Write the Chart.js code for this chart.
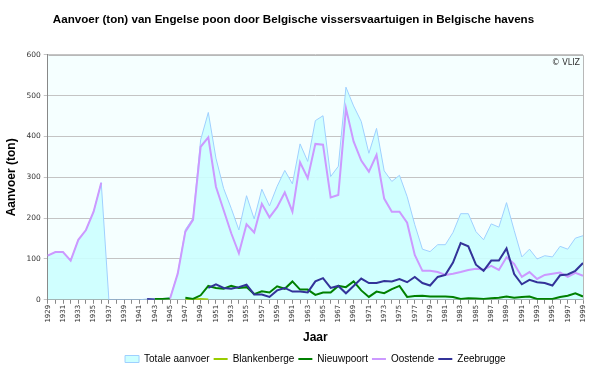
<!DOCTYPE html>
<html>
<head>
<meta charset="utf-8">
<script src="https://cdn.jsdelivr.net/npm/chart.js@4.4.0/dist/chart.umd.min.js"></script>
<style>
  body { margin: 0; background: #fff; }
  #wrap { width: 600px; height: 368px; }
</style>
</head>
<body>
<div id="wrap"><canvas id="chart" width="600" height="368"></canvas></div>
<script>
const years = ['1929','1930','1931','1932','1933','1934','1935','1936','1937','1938',
  '1939','1940','1941','1942','1943','1944','1945','1946','1947','1948',
  '1949','1950','1951','1952','1953','1954','1955','1956','1957','1958',
  '1959','1960','1961','1962','1963','1964','1965','1966','1967','1968',
  '1969','1970','1971','1972','1973','1974','1975','1976','1977','1978',
  '1979','1980','1981','1982','1983','1984','1985','1986','1987','1988',
  '1989','1990','1991','1992','1993','1994','1995','1996','1997','1998','1999'];

// totale aanvoer (ton)
const totaal = [108,117,117,96,147,171,216,287,0,0,
  0,0,0,2,3,3,5,64,172,200,
  392,459,347,273,224,171,255,198,271,230,
  278,317,284,382,339,439,451,302,327,521,
  475,437,359,420,316,290,305,253,184,124,
  118,135,135,165,211,211,167,147,186,178,
  238,170,105,124,100,108,105,131,124,151,157];

const blankenberge = [null,null,null,null,null,null,null,null,null,null,
  null,null,null,null,null,null,null,null,0,1,
  2,1,null,null,null,null,null,null,null,null,
  null,null,null,null,null,null,null,null,null,null,
  null,null,null,null,null,null,null,null,null,null,
  null,null,null,null,null,null,null,null,null,null,
  null,null,null,null,null,null,null,null,null,null,null];

const nieuwpoort = [null,null,null,null,null,null,null,null,null,null,
  null,null,null,null,2,2,3,null,5,2,
  11,34,29,27,34,29,31,14,21,18,
  33,27,45,25,25,12,18,18,34,31,
  45,23,7,20,16,26,34,7,9,10,
  8,8,8,7,2,4,3,2,4,5,
  8,5,7,8,2,2,2,7,10,16,8];

const oostende = [108,117,117,96,147,171,216,287,null,null,
  null,null,null,null,null,null,3,64,167,196,
  375,398,277,220,163,114,185,165,235,202,
  227,263,216,337,298,382,380,251,257,469,
  388,341,314,355,248,216,216,189,110,71,
  71,68,61,64,68,73,76,74,83,73,
  104,88,56,68,51,61,64,67,56,66,59];

const zeebrugge = [null,null,null,null,null,null,null,null,null,null,
  null,null,null,2,1,null,null,null,null,null,
  null,29,38,29,27,31,37,13,13,7,
  23,29,20,20,18,45,53,29,34,16,
  34,52,41,41,46,45,51,43,56,41,
  35,56,61,91,139,131,86,71,96,96,
  126,63,38,49,43,41,35,60,62,71,90];

const tickLabels = years;

const plotBg = {
  id: 'plotBg',
  beforeDraw(chart) {
    const { ctx, chartArea: a } = chart;
    ctx.save();
    ctx.fillStyle = '#f5ffff';
    ctx.fillRect(a.left, a.top, a.right - a.left, a.bottom - a.top);
    ctx.restore();
  },
  afterDraw(chart) {
    const { ctx, chartArea: a } = chart;
    ctx.save();
    ctx.strokeStyle = '#b8b8b8';
    ctx.lineWidth = 1;
    ctx.beginPath();
    ctx.moveTo(Math.round(a.left) + 0.5, Math.round(a.top) + 0.5);
    ctx.lineTo(Math.round(a.right) + 0.5, Math.round(a.top) + 0.5);
    ctx.lineTo(Math.round(a.right) + 0.5, Math.round(a.bottom) + 0.5);
    ctx.stroke();
    ctx.fillStyle = '#333';
    ctx.font = '8px "DejaVu Sans", sans-serif';
    ctx.textAlign = 'right';
    ctx.textBaseline = 'top';
    ctx.fillText('\u00a9 VLIZ', a.right - 3, a.top + 4);
    ctx.restore();
  }
};

const line = (label, data, color, order) => ({
  label: label,
  data: data,
  borderColor: color,
  backgroundColor: color,
  borderWidth: 2,
  pointRadius: 0,
  fill: false,
  tension: 0,
  order: order
});

new Chart(document.getElementById('chart').getContext('2d'), {
  type: 'line',
  data: {
    labels: years,
    datasets: [
      {
        label: 'Totale aanvoer',
        data: totaal,
        borderColor: '#9fd0ff',
        backgroundColor: 'rgba(204,255,255,0.9)',
        borderWidth: 1,
        pointRadius: 0,
        fill: 'origin',
        tension: 0,
        order: 10
      },
      line('Blankenberge', blankenberge, '#99cc00', 4),
      line('Nieuwpoort', nieuwpoort, '#008000', 3),
      line('Oostende', oostende, '#cc99ff', 2),
      line('Zeebrugge', zeebrugge, '#333399', 1)
    ]
  },
  options: {
    responsive: false,
    animation: false,
    layout: { padding: { left: 4, right: 17, top: 0, bottom: -6 } },
    plugins: {
      title: {
        display: true,
        text: 'Aanvoer (ton) van Engelse poon door Belgische vissersvaartuigen in Belgische havens',
        font: { family: 'Liberation Sans', size: 11.6, weight: 'bold' },
        color: '#000',
        padding: { top: 13, bottom: 28 }
      },
      legend: {
        position: 'bottom',
        fullSize: false,
        labels: {
          font: { family: 'Liberation Sans', size: 10 },
          color: '#222',
          usePointStyle: true,
          pointStyleWidth: 14,
          boxHeight: 7,
          padding: 4,
          generateLabels(chart) {
            return chart.data.datasets.map((ds, i) => ({
              text: ds.label,
              fillStyle: i === 0 ? '#ccffff' : ds.borderColor,
              strokeStyle: ds.borderColor,
              lineWidth: i === 0 ? 1 : 2,
              pointStyle: i === 0 ? 'rect' : 'line',
              hidden: false,
              datasetIndex: i
            }));
          }
        }
      },
      tooltip: { enabled: false }
    },
    scales: {
      x: {
        offset: false,
        grid: { drawOnChartArea: false, drawTicks: true, tickLength: 4, color: '#888' },
        border: { color: '#888' },
        ticks: {
          autoSkip: false,
          minRotation: 90,
          maxRotation: 90,
          padding: 1,
          font: { family: 'DejaVu Sans', size: 7 },
          color: '#333',
          callback: (v, i) => (i % 2 === 0 ? tickLabels[i] : '')
        },
        title: {
          display: true,
          text: 'Jaar',
          font: { family: 'Liberation Sans', size: 12, weight: 'bold' },
          color: '#000',
          padding: { top: 7, bottom: 5 }
        }
      },
      y: {
        min: 0,
        max: 600,
        ticks: {
          stepSize: 100,
          padding: 3,
          font: { family: 'DejaVu Sans', size: 7.5 },
          color: '#333'
        },
        grid: { color: '#c4c4c4', tickLength: 4 },
        border: { color: '#888' },
        title: {
          display: true,
          text: 'Aanvoer (ton)',
          font: { family: 'Liberation Sans', size: 12, weight: 'bold' },
          color: '#000',
          padding: { top: 0, bottom: 5 }
        }
      }
    }
  },
  plugins: [plotBg]
});
</script>
</body>
</html>
